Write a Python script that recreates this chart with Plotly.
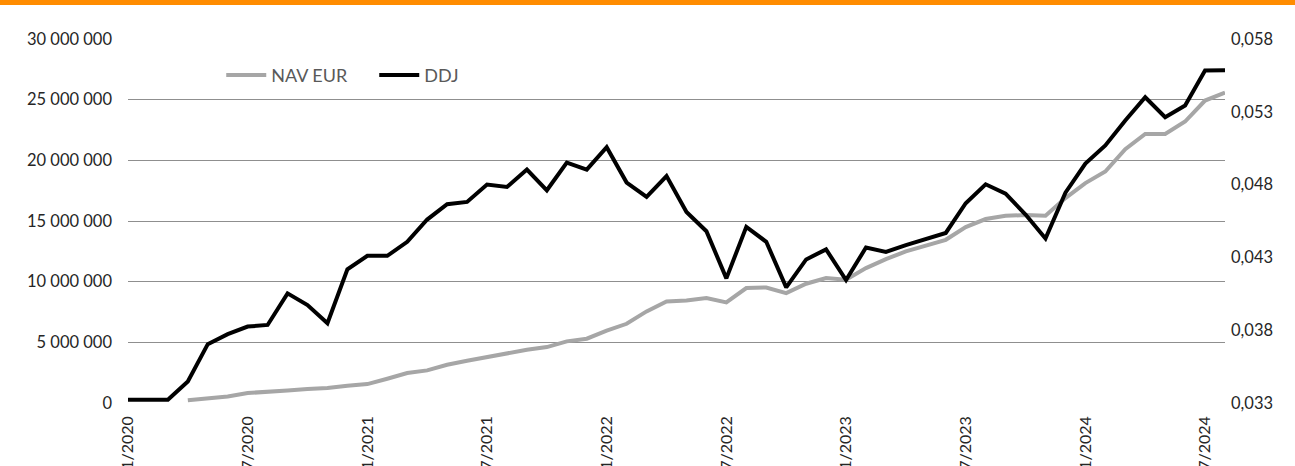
import plotly.graph_objects as go

# Monthly categories 1/2020 .. 8/2024
months = [f"{m}/{y}" for y in range(2020, 2025) for m in range(1, 13)][:56]
tick_labels = months[::6][:10]

# NAV EUR (left axis), EUR
nav_eur = [None, None, None,
           220000, 410000, 540000, 820000, 900000, 1040000, 1150000, 1230000, 1420000,
           1560000, 2000000, 2470000, 2690000, 3150000, 3480000, 3790000, 4060000, 4390000,
           4610000, 5080000, 5300000, 5960000, 6530000, 7550000, 8370000, 8450000, 8650000,
           8290000, 9470000, 9520000, 9060000, 9830000, 10300000, 10160000, 11120000, 11860000,
           12490000, 12960000, 13450000, 14500000, 15160000, 15430000, 15490000, 15430000,
           16890000, 18120000, 19080000, 20920000, 22180000, 22180000, 23200000, 24930000,
           25590000]

# DDJ (right axis)
ddj = [0.03323, 0.03323, 0.03323, 0.03448, 0.03704, 0.03773, 0.03825, 0.03836, 0.04053,
       0.03973, 0.03848, 0.04218, 0.04311, 0.04311, 0.04407, 0.04560, 0.04665, 0.04681,
       0.04800, 0.04784, 0.04903, 0.04761, 0.04951, 0.04903, 0.05057, 0.04814, 0.04715,
       0.04859, 0.04612, 0.04480, 0.04156, 0.04510, 0.04407, 0.04094, 0.04286, 0.04355,
       0.04144, 0.04368, 0.04338, 0.04384, 0.04425, 0.04468, 0.04672, 0.04802, 0.04738,
       0.04594, 0.04430, 0.04745, 0.04944, 0.05069, 0.05240, 0.05400, 0.05263, 0.05343,
       0.05583, 0.05585]

right_ticks = [0.033, 0.038, 0.043, 0.048, 0.053, 0.058]
right_labels = ["0,033", "0,038", "0,043", "0,048", "0,053", "0,058"]

FONT = "Lato, 'Open Sans', sans-serif"
TXT = "#262626"

fig = go.Figure()
fig.add_trace(go.Scatter(x=months, y=nav_eur, name="NAV EUR", mode="lines",
                         line=dict(color="#A6A6A6", width=4), yaxis="y"))
fig.add_trace(go.Scatter(x=months, y=ddj, name="DDJ", mode="lines",
                         line=dict(color="#000000", width=4), yaxis="y2"))

fig.update_layout(
    width=1295, height=466,
    margin=dict(l=128, r=70, t=39, b=63),
    paper_bgcolor="white", plot_bgcolor="white",
    separators=", ",
    font=dict(family=FONT, size=16, color=TXT),
    showlegend=True,
    legend=dict(orientation="h", x=0.085, y=0.9, xanchor="left", yanchor="middle",
                font=dict(size=18, color="#595959"), bgcolor="rgba(0,0,0,0)",
                itemwidth=40, entrywidth=98, entrywidthmode="pixels"),
    xaxis=dict(type="category", range=[0, 55], tickmode="array",
               tickvals=tick_labels, ticktext=tick_labels, tickangle=-90,
               showgrid=False, showline=False, ticks="", zeroline=False,
               ticklabelstandoff=9, automargin=False,
               tickfont=dict(size=16, color=TXT)),
    yaxis=dict(range=[0, 30000000], dtick=5000000, tickformat=",d",
               showgrid=True, gridcolor="#8f8f8f", gridwidth=1.3,
               zeroline=False, showline=False, ticks="", ticklabelstandoff=15,
               automargin=False, tickfont=dict(size=16.5, color=TXT)),
    yaxis2=dict(overlaying="y", side="right", range=[0.033, 0.058],
                tickmode="array", tickvals=right_ticks, ticktext=right_labels,
                showgrid=False, zeroline=False, showline=False, ticks="",
                ticklabelstandoff=5, automargin=False,
                tickfont=dict(size=16.5, color=TXT)),
    shapes=[dict(type="rect", xref="paper", yref="paper",
                 x0=-0.3, x1=1.3, y0=1 + 34 / 364.0, y1=1.2,
                 fillcolor="#FF8C00", line=dict(width=0), layer="above")],
)

fig.write_html(
    "out.html",
    config={"displayModeBar": False},
    post_script="document.body.style.margin='0';"
                "document.documentElement.style.overflow='hidden';",
)
